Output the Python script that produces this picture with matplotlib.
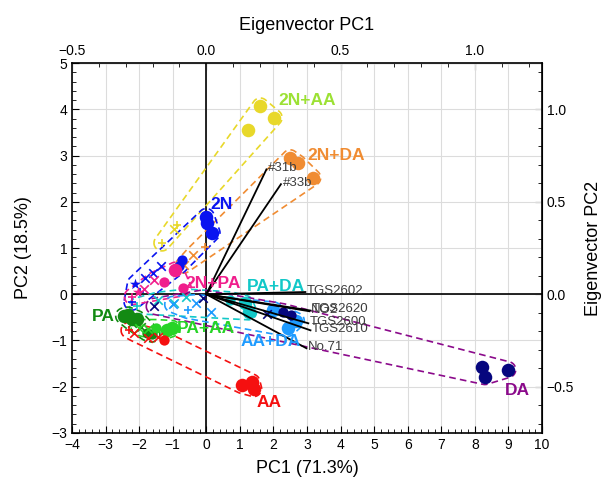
import numpy as np
import matplotlib
matplotlib.use("Agg")
import matplotlib.pyplot as plt

plt.rcParams['font.family'] = ['Liberation Sans', 'DejaVu Sans']

# ---- PCA scores (PC1, PC2) per treatment group ----
# each group: big circles, small circles, 'x' points, '+' points, '*' points
grp_names = ["2N+AA", "2N+DA", "2N", "2N+PA", "PA+DA", "PA", "PA+AA", "AA+DA", "AA", "DA"]

big_pts = {
    "2N":    [(0.00, 1.68), (0.02, 1.55), (0.17, 1.33)],
    "2N+PA": [(-0.92, 0.52)],
    "2N+AA": [(1.61, 4.07), (2.02, 3.82), (1.23, 3.56)],
    "2N+DA": [(2.50, 2.95), (2.72, 2.84), (3.17, 2.52)],
    "PA":    [(-2.46, -0.47), (-2.33, -0.45), (-2.20, -0.53), (-2.06, -0.53)],
    "PA+AA": [(-1.17, -0.78), (-1.02, -0.74)],
    "AA":    [(1.06, -1.97), (1.36, -1.90), (1.41, -2.04)],
    "PA+DA": [(1.16, -0.20), (1.26, -0.38)],
    "AA+DA": [(2.00, -0.34), (2.68, -0.57), (2.42, -0.74)],
    "DA":    [(8.22, -1.57), (8.30, -1.78), (8.98, -1.63)],
}
small_pts = {
    "2N":    [(-0.73, 0.73), (-0.80, 0.62)],
    "2N+PA": [(-1.27, 0.27), (-0.69, 0.14)],
    "2N+AA": [],
    "2N+DA": [],
    "PA":    [(-1.77, -0.83), (-1.62, -0.86)],
    "PA+AA": [(-1.50, -0.72)],
    "AA":    [(-1.27, -0.98)],
    "PA+DA": [(0.70, -0.12)],
    "AA+DA": [],
    "DA":    [(2.30, -0.38), (2.52, -0.45)],
}
x_pts = {
    "2N":    [(-1.36, 0.62), (-1.60, 0.45), (-1.82, 0.35)],
    "2N+PA": [(-1.57, 0.30), (-1.87, 0.12)],
    "2N+AA": [(-0.95, 1.42)],
    "2N+DA": [(-0.67, 0.63), (-0.40, 0.85)],
    "PA":    [(-2.20, -0.62), (-1.95, -0.70)],
    "PA+AA": [(-2.00, -0.72), (-1.75, -0.76)],
    "AA":    [(-1.75, -0.95), (-2.15, -0.84), (-1.45, -0.93)],
    "PA+DA": [(-1.45, -0.13), (-0.95, -0.20), (-0.60, -0.06)],
    "AA+DA": [(-0.30, -0.18), (0.15, -0.38), (-1.00, -0.22)],
    "DA":    [(-1.55, -0.26), (-0.10, -0.08), (1.80, -0.42)],
}
plus_pts = {
    "2N":    [(-1.96, 0.05), (-2.21, -0.17)],
    "2N+PA": [(-2.20, -0.05)],
    "2N+AA": [(-0.87, 1.49), (-1.32, 1.11)],
    "2N+DA": [(-0.05, 1.02)],
    "PA":    [],
    "PA+AA": [],
    "AA":    [(-2.30, -0.78)],
    "PA+DA": [(-2.05, -0.25)],
    "AA+DA": [(-0.55, -0.35)],
    "DA":    [],
}
star_pts = {
    "2N":    [(-2.11, 0.23)],
    "2N+PA": [(-2.02, 0.05)],
}

grp_color = {
    "2N": "#0a14f0", "2N+PA": "#f01e8c", "2N+AA": "#e8d82a", "2N+DA": "#f08c32",
    "PA": "#138a13", "PA+AA": "#27d427", "AA": "#f51010", "PA+DA": "#12c8c8",
    "AA+DA": "#1e9bff", "DA": "#06067e",
}
hull_color = dict(grp_color, DA="#8b0a8b")
label_color = dict(grp_color, **{"2N+AA": "#9ce134", "DA": "#8b0a8b"})

# group label anchors (left, centre)
label_pos = {
    "2N+AA": (2.14, 4.20), "2N+DA": (3.00, 2.99), "2N": (0.12, 1.95),
    "2N+PA": (-0.63, 0.24), "PA+DA": (1.22, 0.17), "PA": (-3.42, -0.48),
    "PA+AA": (-0.89, -0.74), "AA+DA": (1.01, -1.02), "AA": (1.49, -2.34),
    "DA": (8.90, -2.08),
}

# ---- loadings (eigenvector PC1, eigenvector PC2) ----
load_names = ["#31b", "#33b", "TGS2602", "NO2", "TGS2620", "TGS2600", "TGS2610", "No.71"]
load_pc1 = [0.224, 0.278, 0.369, 0.384, 0.388, 0.380, 0.388, 0.373]
load_pc2 = [0.675, 0.595, 0.012, -0.092, -0.088, -0.157, -0.195, -0.292]

EIG_X = 8.0   # score units per eigenvector unit, PC1
EIG_Y = 4.0   # score units per eigenvector unit, PC2

fig = plt.figure(figsize=(6.01, 4.84), dpi=100)
ax = fig.add_axes([0.1198, 0.1054, 0.782, 0.7644])
ax.set_xlim(-4, 10)
ax.set_ylim(-3, 5)

fmt0 = matplotlib.ticker.FuncFormatter(lambda v, p: f"{v:.0f}".replace('-', '\u2212'))
fmt1 = matplotlib.ticker.FuncFormatter(lambda v, p: f"{v:.1f}".replace('-', '\u2212'))

ax.set_xticks(np.arange(-4, 11, 1))
ax.set_yticks(np.arange(-3, 6, 1))
ax.set_xticks(np.arange(-4, 10.01, 0.2), minor=True)
ax.set_yticks(np.arange(-3, 5.01, 0.2), minor=True)
ax.grid(True, which='major', color='#dcdcdc', lw=0.8)
ax.set_axisbelow(True)
ax.tick_params(which='both', direction='in', top=False, right=False, labelsize=10)
ax.tick_params(which='major', length=5)
ax.tick_params(which='minor', length=3)
ax.xaxis.set_major_formatter(fmt0)
ax.yaxis.set_major_formatter(fmt0)
for s in ax.spines.values():
    s.set_linewidth(1.2)

ax.axhline(0, color='black', lw=1.2, zorder=1)
ax.axvline(0, color='black', lw=1.2, zorder=1)

ax.set_xlabel("PC1 (71.3%)", fontsize=13, labelpad=6)
ax.set_ylabel("PC2 (18.5%)", fontsize=13, labelpad=14)

# secondary axes for eigenvectors
sx = ax.secondary_xaxis('top', functions=(lambda v: v / EIG_X, lambda v: v * EIG_X))
sx.set_xticks([-0.5, 0.0, 0.5, 1.0])
sx.set_xticks(np.arange(-0.5, 1.251, 0.1), minor=True)
sx.tick_params(which='both', direction='in', labelsize=10)
sx.tick_params(which='major', length=5)
sx.tick_params(which='minor', length=3)
sx.xaxis.set_major_formatter(fmt1)
sx.set_xlabel("Eigenvector PC1", fontsize=13, labelpad=10)

sy = ax.secondary_yaxis('right', functions=(lambda v: v / EIG_Y, lambda v: v * EIG_Y))
sy.set_yticks([-0.5, 0.0, 0.5, 1.0])
sy.set_yticks(np.arange(-0.7, 1.251, 0.1), minor=True)
sy.tick_params(which='both', direction='in', labelsize=10)
sy.tick_params(which='major', length=5)
sy.tick_params(which='minor', length=3)
sy.yaxis.set_major_formatter(fmt1)
sy.set_ylabel("Eigenvector PC2", fontsize=13, labelpad=8)


def convex_hull(pts):
    pts = sorted(set(map(tuple, pts)))
    if len(pts) <= 2:
        return pts

    def cross(o, a, b):
        return (a[0] - o[0]) * (b[1] - o[1]) - (a[1] - o[1]) * (b[0] - o[0])
    lower, upper = [], []
    for p in pts:
        while len(lower) >= 2 and cross(lower[-2], lower[-1], p) <= 0:
            lower.pop()
        lower.append(p)
    for p in reversed(pts):
        while len(upper) >= 2 and cross(upper[-2], upper[-1], p) <= 0:
            upper.pop()
        upper.append(p)
    return lower[:-1] + upper[:-1]


def rounded_hull(points, pad_px=10):
    disp = ax.transData.transform(np.asarray(points, float))
    ang = np.linspace(0, 2 * np.pi, 36, endpoint=False)
    ring = np.stack([np.cos(ang), np.sin(ang)], 1) * pad_px
    cloud = (disp[:, None, :] + ring[None, :, :]).reshape(-1, 2)
    cloud = np.round(cloud, 4)
    hull = np.array(convex_hull(cloud))
    hull = np.vstack([hull, hull[:1]])
    return ax.transData.inverted().transform(hull)


for g in grp_names:
    c = grp_color[g]
    allp = big_pts[g] + small_pts[g] + x_pts[g] + plus_pts[g] + star_pts.get(g, [])
    h = rounded_hull(allp, pad_px=8)
    ax.plot(h[:, 0], h[:, 1], ls=(0, (4, 2.5)), color=hull_color[g], lw=1.2, zorder=3)
    if big_pts[g]:
        a = np.array(big_pts[g])
        ax.scatter(a[:, 0], a[:, 1], s=95, color=c, zorder=5, lw=0)
    if small_pts[g]:
        a = np.array(small_pts[g])
        ax.scatter(a[:, 0], a[:, 1], s=55, color=c, zorder=5, lw=0)
    if x_pts[g]:
        a = np.array(x_pts[g])
        ax.scatter(a[:, 0], a[:, 1], s=38, marker='x', color=c, zorder=5, lw=1.2)
    if plus_pts[g]:
        a = np.array(plus_pts[g])
        ax.scatter(a[:, 0], a[:, 1], s=38, marker='+', color=c, zorder=5, lw=1.2)
    if star_pts.get(g):
        a = np.array(star_pts[g])
        ax.scatter(a[:, 0], a[:, 1], s=70, marker='*', color=c, zorder=5, lw=0)
    lx, ly = label_pos[g]
    ax.text(lx, ly, g, color=label_color[g], fontsize=12.5, fontweight='bold',
            ha='left', va='center', zorder=7)

# loading vectors
for name, e1, e2 in zip(load_names, load_pc1, load_pc2):
    x1, y1 = e1 * EIG_X, e2 * EIG_Y
    ax.plot([0, x1], [0, y1], color='black', lw=1.3, zorder=6)
    ax.text(x1 + 0.05, y1 + 0.03, name, color='#3c3c3c', fontsize=9.5,
            ha='left', va='center', zorder=7)

fig.savefig("out.png", dpi=100)
